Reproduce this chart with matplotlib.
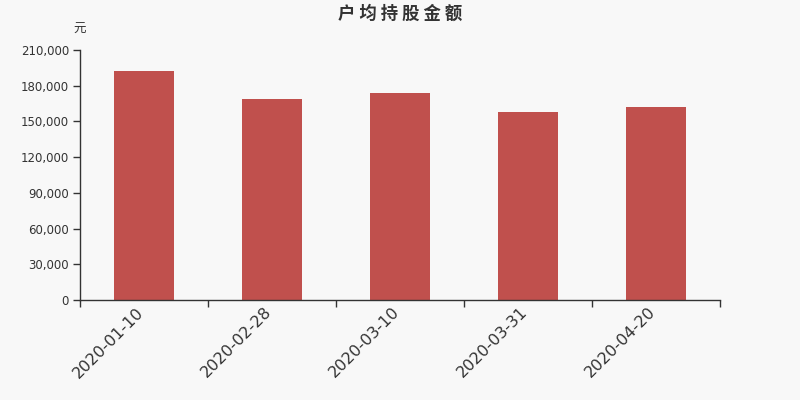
import numpy as np
import matplotlib.pyplot as plt
from matplotlib.ticker import FuncFormatter

plt.rcParams['font.family'] = ['Noto Sans CJK SC', 'DejaVu Sans']

dates = ['2020-01-10', '2020-02-28', '2020-03-10', '2020-03-31', '2020-04-20']
amounts = [192100, 168600, 174100, 158200, 161800]
yticks = [0, 30000, 60000, 90000, 120000, 150000, 180000, 210000]

bg = '#f8f8f8'
txt = '#333333'

fig = plt.figure(figsize=(8, 4), dpi=100, facecolor=bg)
ax = fig.add_axes([0.1, 0.25, 0.8, 0.625], facecolor=bg)

x = np.arange(len(dates))
ax.bar(x, amounts, width=0.47, color='#c0504d', zorder=2)

ax.set_xlim(-0.5, len(dates) - 0.5)
ax.set_ylim(0, 210000)
ax.set_yticks(yticks)
ax.yaxis.set_major_formatter(FuncFormatter(lambda v, _: f'{int(v):,}'))
ax.tick_params(axis='y', length=5, width=1, color=txt, labelcolor=txt, labelsize=8.5, pad=3)
for lbl in ax.get_yticklabels():
    lbl.set_family('DejaVu Sans')

# ticks between categories, labels at category centres
ax.set_xticks(np.arange(len(dates) + 1) - 0.5)
ax.set_xticklabels([])
ax.tick_params(axis='x', length=5, width=1, color=txt)
for xi, d in zip(x, dates):
    ax.text(xi + 0.005, -0.052, d, transform=ax.get_xaxis_transform(),
            rotation=45, ha='right', va='baseline', rotation_mode='anchor',
            fontsize=11.5, color=txt, family='DejaVu Sans')

for s in ['top', 'right']:
    ax.spines[s].set_visible(False)
for s in ['left', 'bottom']:
    ax.spines[s].set_color(txt)
    ax.spines[s].set_linewidth(1)

fig.text(0.5, 0.965, '户 均 持 股 金 额', ha='center', va='center',
         fontsize=12.5, fontweight='bold', color=txt)
fig.text(0.1, 0.926, '元', ha='center', va='center', fontsize=9, color=txt)

plt.savefig('out.png', dpi=100, facecolor=bg)
